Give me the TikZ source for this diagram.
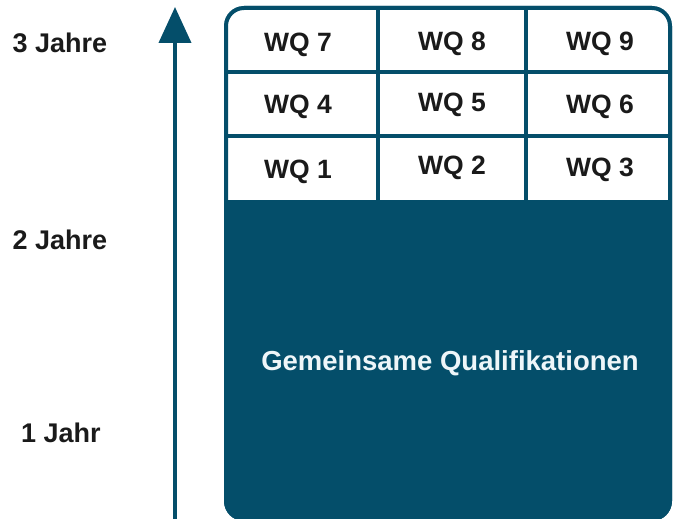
\documentclass[tikz,border=0pt]{standalone}
\usepackage{fontspec}
\setmainfont{Liberation Sans}
\usetikzlibrary{arrows.meta}
\definecolor{teal1}{HTML}{044E6A}
\definecolor{txt}{HTML}{1A1A1A}
\definecolor{wtxt}{HTML}{EEF6F9}
\tikzset{
  lbl/.style={font=\fontsize{27}{30}\selectfont\bfseries, text=txt, inner sep=0pt},
  cell/.style={font=\fontsize{26.5}{30}\selectfont\bfseries, text=txt, inner sep=0pt},
  grid/.style={draw=teal1, line width=4pt},
}
\begin{document}
\begin{tikzpicture}[x=1pt,y=-1pt]
\useasboundingbox (0,0) rectangle (673,519);
% box
\fill[teal1, rounded corners=20pt] (224,6) rectangle (672,521);
\begin{scope}
  \clip[rounded corners=20pt] (224,6) rectangle (672,521);
  \fill[white] (224,6) rectangle (672,200);
\end{scope}
\draw[grid] (226,72) -- (670,72);
\draw[grid] (226,136) -- (670,136);
\draw[grid] (378,8) -- (378,200);
\draw[grid] (526,8) -- (526,200);
\draw[teal1, line width=4pt, rounded corners=18pt] (226,8) rectangle (670,519);
% arrow
\coordinate (a0) at (175,521);
\coordinate (a1) at (175,7);
\draw[teal1, line width=4pt, -{Triangle[length=36pt,width=32pt]}] (a0) -- (a1);
% labels
\node[lbl] (j3) at (60,43) {3 Jahre};
\node[lbl] (j2) at (60,240) {2 Jahre};
\node[lbl] (j1) at (61,433) {1 Jahr};
% cells
\node[cell] (wq7) at (298,45) {WQ 7};
\node[cell] (wq8) at (452,44) {WQ 8};
\node[cell] (wq9) at (600,44) {WQ 9};
\node[cell] (wq4) at (298,107) {WQ 4};
\node[cell] (wq5) at (452,105) {WQ 5};
\node[cell] (wq6) at (600,107) {WQ 6};
\node[cell] (wq1) at (298,172) {WQ 1};
\node[cell] (wq2) at (452,168) {WQ 2};
\node[cell] (wq3) at (600,170) {WQ 3};
\node[cell, font=\fontsize{27.5}{30}\selectfont\bfseries, text=wtxt] (gq) at (450,363) {Gemeinsame Qualifikationen};
\end{tikzpicture}
\end{document}
